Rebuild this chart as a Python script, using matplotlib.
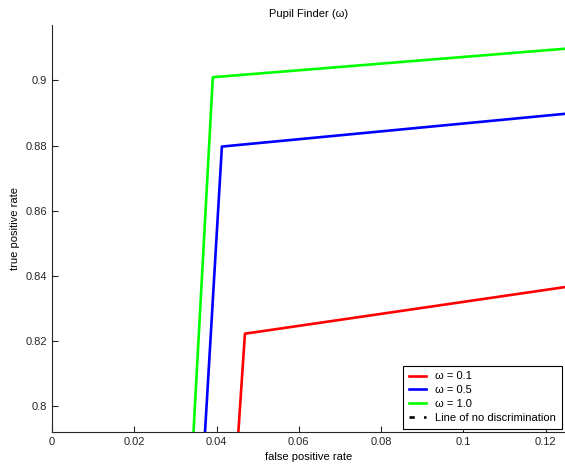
import matplotlib
matplotlib.use('Agg')
import matplotlib.pyplot as plt

plt.rcParams['font.family'] = ['Liberation Sans', 'DejaVu Sans']

# ROC points (false positive rate, true positive rate)
fpr_01 = [0.0440, 0.0453, 0.0469, 0.1300]
tpr_01 = [0.750, 0.792, 0.8222, 0.8375]
fpr_05 = [0.0357, 0.0372, 0.0413, 0.1300]
tpr_05 = [0.750, 0.792, 0.8797, 0.8904]
fpr_10 = [0.0326, 0.0344, 0.0391, 0.1300]
tpr_10 = [0.750, 0.792, 0.9010, 0.9103]
diag = [0, 1]

fig = plt.figure(figsize=(5.65, 4.66), dpi=100)
ax = fig.add_axes([0.092, 0.073, 0.908, 0.873])

ax.plot(fpr_01, tpr_01, color='#ff0000', lw=1.9, label='ω = 0.1')
ax.plot(fpr_05, tpr_05, color='#0000ff', lw=1.9, label='ω = 0.5')
ax.plot(fpr_10, tpr_10, color='#00ff00', lw=1.9, label='ω = 1.0')
ax.plot(diag, diag, color='black', ls=(0, (2, 3.5)), lw=1.9,
        label='Line of no discrimination')

ax.set_xlim(0, 0.1247)
ax.set_ylim(0.792, 0.917)
ax.set_xticks([0, 0.02, 0.04, 0.06, 0.08, 0.1, 0.12])
ax.set_xticklabels(['0', '0.02', '0.04', '0.06', '0.08', '0.1', '0.12'])
ax.set_yticks([0.8, 0.82, 0.84, 0.86, 0.88, 0.9])
ax.set_yticklabels(['0.8', '0.82', '0.84', '0.86', '0.88', '0.9'])

ax.spines['right'].set_color('none')
ax.spines['top'].set_color('none')
ax.spines['left'].set_color('#262626')
ax.spines['bottom'].set_color('#262626')
ax.tick_params(direction='in', length=4, labelsize=8, colors='#262626')

ax.set_xlabel('false positive rate', fontsize=8, labelpad=4)
ax.set_ylabel('true positive rate', fontsize=8, labelpad=4)
ax.set_title('Pupil Finder (ω)', fontsize=8, pad=6)

leg = ax.legend(loc='lower right', fontsize=8, fancybox=False, framealpha=1,
                edgecolor='black', handlelength=1.6, handletextpad=0.8,
                borderpad=0.5, labelspacing=0.35, borderaxespad=0.3)
leg.get_frame().set_linewidth(0.8)

fig.savefig('out.png', dpi=100)
